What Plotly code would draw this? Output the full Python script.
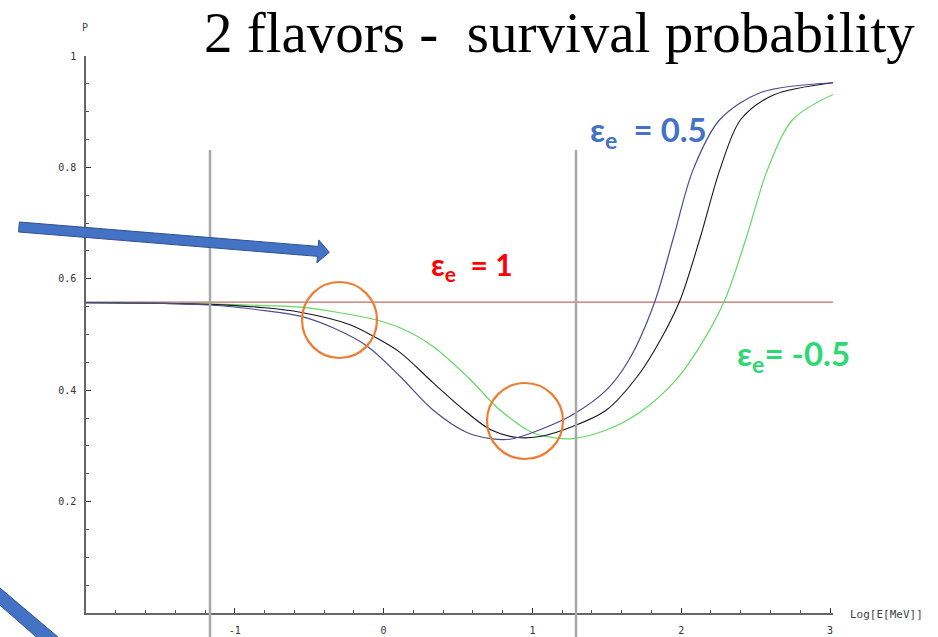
import math
import plotly.graph_objects as go

# ---- data ----
x_eps_plus = [-2.0, -1.5, -1.17, -0.8, -0.56, -0.34, -0.11, 0.11, 0.33, 0.56, 0.72, 0.85,
              1.05, 1.27, 1.5, 1.65, 1.82, 1.95, 2.08, 2.26, 2.53, 3.02]
p_eps_plus = [0.557, 0.556, 0.553, 0.543, 0.533, 0.512, 0.479, 0.425, 0.365, 0.324, 0.313, 0.312,
              0.329, 0.356, 0.401, 0.455, 0.557, 0.676, 0.796, 0.886, 0.934, 0.952]

x_eps_zero = [-2.0, -1.5, -1.17, -0.8, -0.56, -0.23, -0.07, 0.11, 0.33, 0.56, 0.72, 0.9,
              1.05, 1.27, 1.5, 1.72, 1.86, 1.99, 2.13, 2.26, 2.4, 2.62, 3.02]
p_eps_zero = [0.557, 0.556, 0.554, 0.548, 0.540, 0.518, 0.497, 0.468, 0.414, 0.360, 0.329, 0.315,
              0.317, 0.335, 0.365, 0.430, 0.490, 0.560, 0.676, 0.796, 0.886, 0.930, 0.952]

x_eps_minus = [-2.0, -1.5, -1.17, -0.8, -0.56, -0.11, 0.11, 0.33, 0.56, 0.78, 1.0, 1.14,
               1.27, 1.5, 1.72, 1.95, 2.11, 2.29, 2.44, 2.58, 2.75, 3.02]
p_eps_minus = [0.557, 0.556, 0.555, 0.552, 0.549, 0.530, 0.512, 0.479, 0.425, 0.365, 0.324, 0.315,
               0.313, 0.329, 0.360, 0.414, 0.472, 0.560, 0.676, 0.796, 0.886, 0.931]

x_eps_one = [-2.0, 3.02]
p_eps_one = [0.558, 0.558]

x_tick_vals = [-1, 0, 1, 2, 3]
x_tick_text = ["-1", "0", "1", "2", "3"]
y_tick_vals = [0.2, 0.4, 0.6, 0.8, 1.0]
y_tick_text = ["0.2", "0.4", "0.6", "0.8", "1"]

title_text = "2 flavors -\u00a0 survival probability"

# ---- layout geometry (pixels) ----
W, H = 938, 637
L, R, T, B = 86, 833, 56, 613


def px(xp):
    return (xp - L) / (R - L)


def py(yp):
    return (B - yp) / (B - T)


fig = go.Figure()
fig.add_trace(go.Scatter(x=x_eps_one, y=p_eps_one, mode="lines",
                         line=dict(color="#c26a6a", width=1.2), hoverinfo="skip"))
fig.add_trace(go.Scatter(x=x_eps_minus, y=p_eps_minus, mode="lines",
                         line=dict(color="#62d862", width=1.2, shape="spline", smoothing=0.9),
                         hoverinfo="skip"))
fig.add_trace(go.Scatter(x=x_eps_zero, y=p_eps_zero, mode="lines",
                         line=dict(color="#151525", width=1.1, shape="spline", smoothing=0.9),
                         hoverinfo="skip"))
fig.add_trace(go.Scatter(x=x_eps_plus, y=p_eps_plus, mode="lines",
                         line=dict(color="#4c4c8e", width=1.2, shape="spline", smoothing=0.9),
                         hoverinfo="skip"))

shapes = []
# gray vertical markers
for vx in (210, 576):
    shapes.append(dict(type="line", xref="paper", yref="paper",
                       x0=px(vx), x1=px(vx), y0=py(150), y1=py(660),
                       line=dict(color="#a8a8a8", width=2.5)))
# orange circles
for (x0, y0, x1, y1) in [(302, 282, 377, 358), (487, 383, 563, 459)]:
    shapes.append(dict(type="circle", xref="paper", yref="paper",
                       x0=px(x0), x1=px(x1), y0=py(y1), y1=py(y0),
                       line=dict(color="#ED7D31", width=2.2)))

# big blue arrow
tx, ty = 19.0, 227.0
hx, hy = 329.3, 252.3
dx, dy = hx - tx, hy - ty
ln = math.hypot(dx, dy)
ux, uy = dx / ln, dy / ln
nx, ny = -uy, ux
sw, hw, hl = 5.0, 11.5, 11.5
pts = [
    (tx - sw * nx, ty - sw * ny),
    (hx - hl * ux - sw * nx, hy - hl * uy - sw * ny),
    (hx - hl * ux - hw * nx, hy - hl * uy - hw * ny),
    (hx, hy),
    (hx - hl * ux + hw * nx, hy - hl * uy + hw * ny),
    (hx - hl * ux + sw * nx, hy - hl * uy + sw * ny),
    (tx + sw * nx, ty + sw * ny),
]
path = "M " + " L ".join(f"{px(a):.5f},{py(b):.5f}" for a, b in pts) + " Z"
shapes.append(dict(type="path", xref="paper", yref="paper", path=path,
                   fillcolor="#4472C4", line=dict(color="#2F528F", width=1)))
# second arrow (cut off bottom-left)
pts2 = [(-5, 583.8), (75, 651.4), (58, 655.9), (-5, 600.8)]
path2 = "M " + " L ".join(f"{px(a):.5f},{py(b):.5f}" for a, b in pts2) + " Z"
shapes.append(dict(type="path", xref="paper", yref="paper", path=path2,
                   fillcolor="#4472C4", line=dict(color="#2F528F", width=1)))

annotations = [
    dict(text=title_text, xref="paper", yref="paper", x=px(916), y=py(0),
         xanchor="right", yanchor="top", height=72, valign="top", borderpad=0,
         showarrow=False,
         font=dict(family="Liberation Serif", size=57, color="#000000")),
    dict(text="<b>ε<sub>e</sub>\u00a0\u00a0= 0.5</b>", xref="paper", yref="paper", x=px(648), y=py(131),
         xanchor="center", yanchor="middle", showarrow=False,
         font=dict(family="Lato", size=33, color="#4472C4")),
    dict(text="<b>ε<sub>e</sub>\u00a0\u00a0= 1</b>", xref="paper", yref="paper", x=px(472), y=py(266),
         xanchor="center", yanchor="middle", showarrow=False,
         font=dict(family="Lato", size=30, color="#FF0000")),
    dict(text="<b>ε<sub>e</sub>= -0.5</b>", xref="paper", yref="paper", x=px(793), y=py(355),
         xanchor="center", yanchor="middle", showarrow=False,
         font=dict(family="Lato", size=33, color="#2ED873")),
    dict(text="P", xref="paper", yref="paper", x=px(85), y=py(28),
         xanchor="center", yanchor="middle", showarrow=False,
         font=dict(family="DejaVu Sans Mono", size=10, color="#444444")),
    dict(text="Log[E[MeV]]", xref="paper", yref="paper", x=px(848), y=py(614),
         xanchor="left", yanchor="middle", showarrow=False,
         font=dict(family="DejaVu Sans Mono", size=11, color="#444444")),
]

fig.update_layout(
    width=W, height=H,
    margin=dict(l=L, r=W - R, t=T, b=H - B, pad=0, autoexpand=False),
    paper_bgcolor="white", plot_bgcolor="white",
    showlegend=False,
    shapes=shapes, annotations=annotations,
    xaxis=dict(range=[-2, 3.02], showgrid=False, zeroline=False, automargin=False,
               showline=True, linecolor="#666666", linewidth=1.5,
               tickmode="array", tickvals=x_tick_vals, ticktext=x_tick_text,
               ticks="inside", ticklen=5, tickcolor="#333333", tickwidth=1,
               ticklabelstandoff=7,
               tickfont=dict(family="DejaVu Sans Mono", size=10, color="#333333"),
               minor=dict(tickmode="linear", tick0=-2, dtick=0.2, ticks="inside",
                          ticklen=3, tickcolor="#555555", showgrid=False)),
    yaxis=dict(range=[0, 1], showgrid=False, zeroline=False, automargin=False,
               showline=True, linecolor="#666666", linewidth=1.5,
               tickmode="array", tickvals=y_tick_vals, ticktext=y_tick_text,
               ticks="inside", ticklen=5, tickcolor="#333333", tickwidth=1,
               ticklabelstandoff=6,
               tickfont=dict(family="DejaVu Sans Mono", size=10, color="#333333"),
               minor=dict(tickmode="linear", tick0=0, dtick=0.05, ticks="inside",
                          ticklen=3, tickcolor="#555555", showgrid=False)),
)

fig.write_html("out.html")
